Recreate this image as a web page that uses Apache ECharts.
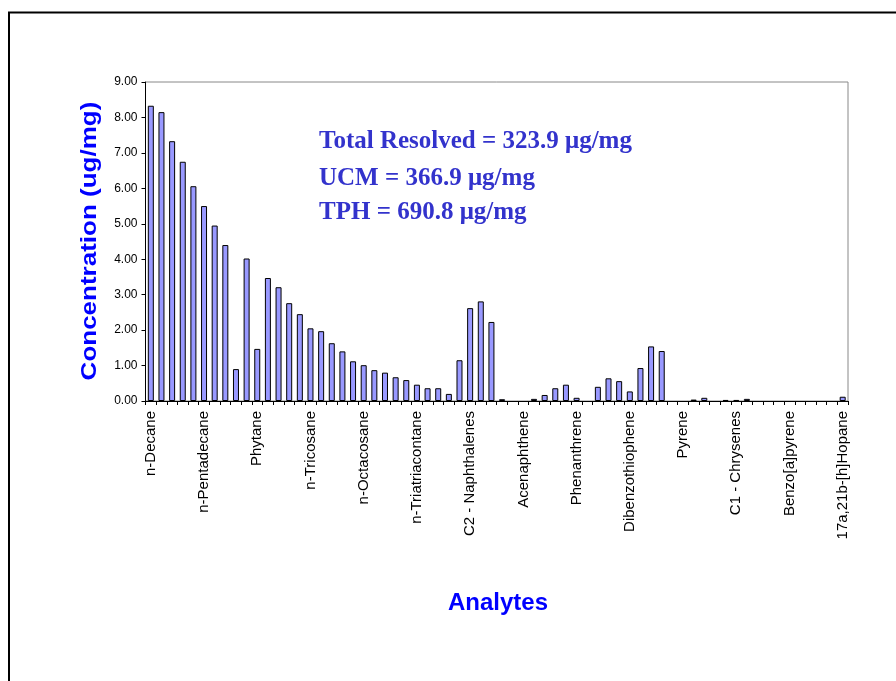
<!DOCTYPE html>
<html>
<head>
<meta charset="utf-8">
<script src="https://cdn.jsdelivr.net/npm/echarts@6/dist/echarts.min.js"></script>
<style>
  html, body { margin: 0; padding: 0; background: #fff; }
  #main { width: 896px; height: 681px; }
</style>
</head>
<body>
<div id="main"></div>
<script>
// analytes, one per bar (only every 5th gets a label on the axis)
const analytes = [
  'n-Decane', 'n-Undecane', 'n-Dodecane', 'n-Tridecane', 'n-Tetradecane',
  'n-Pentadecane', 'n-Hexadecane', 'n-Heptadecane', 'Pristane', 'n-Octadecane',
  'Phytane', 'n-Nonadecane', 'n-Eicosane', 'n-Heneicosane', 'n-Docosane',
  'n-Tricosane', 'n-Tetracosane', 'n-Pentacosane', 'n-Hexacosane', 'n-Heptacosane',
  'n-Octacosane', 'n-Nonacosane', 'n-Triacontane', 'n-Hentriacontane', 'n-Dotriacontane',
  'n-Triatriacontane', 'n-Tetratriacontane', 'n-Pentatriacontane', 'Naphthalene', 'C1 - Naphthalenes',
  'C2 - Naphthalenes', 'C3 - Naphthalenes', 'C4 - Naphthalenes', 'Biphenyl', 'Acenaphthylene',
  'Acenaphthene', 'Fluorene', 'C1 - Fluorenes', 'C2 - Fluorenes', 'C3 - Fluorenes',
  'Phenanthrene', 'Anthracene', 'C1 - Phenanthrenes', 'C2 - Phenanthrenes', 'C3 - Phenanthrenes',
  'Dibenzothiophene', 'C1 - Dibenzothiophenes', 'C2 - Dibenzothiophenes', 'C3 - Dibenzothiophenes', 'Fluoranthene',
  'Pyrene', 'C1 - Pyrenes', 'C2 - Pyrenes', 'Benz[a]anthracene', 'Chrysene',
  'C1 - Chrysenes', 'C2 - Chrysenes', 'C3 - Chrysenes', 'Benzo[b]fluoranthene', 'Benzo[k]fluoranthene',
  'Benzo[a]pyrene', 'Benzo[e]pyrene', 'Indeno[1,2,3-cd]pyrene', 'Dibenz[a,h]anthracene', 'Benzo[g,h,i]perylene',
  '17a,21b-[h]Hopane'
];

// concentration, ug/mg
const concentration = [
  8.33, 8.15, 7.33, 6.75, 6.06, 5.50, 4.95, 4.40, 0.90, 4.02,
  1.47, 3.47, 3.21, 2.76, 2.45, 2.05, 1.97, 1.63, 1.40, 1.12,
  1.01, 0.87, 0.80, 0.67, 0.59, 0.46, 0.36, 0.36, 0.20, 1.15,
  2.62, 2.81, 2.23, 0.05, 0.00, 0.00, 0.06, 0.17, 0.36, 0.46,
  0.09, 0.00, 0.40, 0.64, 0.56, 0.27, 0.93, 1.54, 1.41, 0.00,
  0.00, 0.04, 0.09, 0.00, 0.03, 0.03, 0.06, 0.00, 0.00, 0.00,
  0.00, 0.00, 0.00, 0.00, 0.00, 0.12
];

const summaryLines = [
  'Total Resolved = 323.9 \u03bcg/mg',
  'UCM = 366.9 \u03bcg/mg',
  'TPH = 690.8 \u03bcg/mg'
];
const summaryY = [142, 179, 213];

const chart = echarts.init(document.getElementById('main'));

const graphics = [
  {
    type: 'rect',
    shape: { x: 9, y: 12.5, width: 900, height: 700 },
    style: { fill: null, stroke: '#000', lineWidth: 2 },
    silent: true
  },
  {
    type: 'text',
    x: 90, y: 241,
    rotation: Math.PI / 2,
    scaleY: 0.88,
    style: {
      text: 'Concentration (ug/mg)',
      font: 'bold 26px Arial, "Liberation Sans", sans-serif',
      fill: '#0000ff',
      align: 'center',
      verticalAlign: 'middle'
    }
  },
  {
    type: 'text',
    x: 498, y: 603,
    style: {
      text: 'Analytes',
      font: 'bold 24px Arial, "Liberation Sans", sans-serif',
      fill: '#0000ff',
      align: 'center',
      verticalAlign: 'middle'
    }
  }
];
summaryLines.forEach(function (t, i) {
  graphics.push({
    type: 'text',
    x: 319, y: summaryY[i],
    style: {
      text: t,
      font: 'bold 25px "Times New Roman", "Liberation Serif", serif',
      fill: '#3333cc',
      align: 'left',
      verticalAlign: 'middle'
    }
  });
});

// zero values get no outline so they don't leave a mark on the axis
const barData = concentration.map(function (v) {
  return v > 0 ? v : { value: v, itemStyle: { borderWidth: 0 } };
});

const option = {
  backgroundColor: '#fff',
  animation: false,
  grid: {
    left: 145.5, right: 48, top: 82, bottom: 280,
    show: true,
    borderColor: '#888',
    borderWidth: 1,
    backgroundColor: 'transparent'
  },
  xAxis: {
    type: 'category',
    data: analytes,
    boundaryGap: true,
    axisLine: { lineStyle: { color: '#000', width: 1 } },
    axisTick: { show: true, interval: 0, length: 4, lineStyle: { color: '#000' } },
    axisLabel: {
      interval: 4,
      rotate: 90,
      margin: 10,
      color: '#000',
      fontFamily: 'Arial, "Liberation Sans", sans-serif',
      fontSize: 15
    },
    splitLine: { show: false }
  },
  yAxis: {
    type: 'value',
    min: 0, max: 9, interval: 1,
    axisLine: { show: true, lineStyle: { color: '#000', width: 1 } },
    axisTick: { show: true, length: 4, lineStyle: { color: '#000' } },
    axisLabel: {
      margin: 8,
      color: '#000',
      fontFamily: 'Arial, "Liberation Sans", sans-serif',
      fontSize: 12,
      formatter: function (v) { return v.toFixed(2); }
    },
    splitLine: { show: false }
  },
  series: [{
    type: 'bar',
    data: barData,
    barWidth: 6,
    itemStyle: { color: '#9999ff', borderColor: '#000', borderWidth: 1 }
  }],
  graphic: graphics
};

chart.setOption(option);
</script>
</body>
</html>
